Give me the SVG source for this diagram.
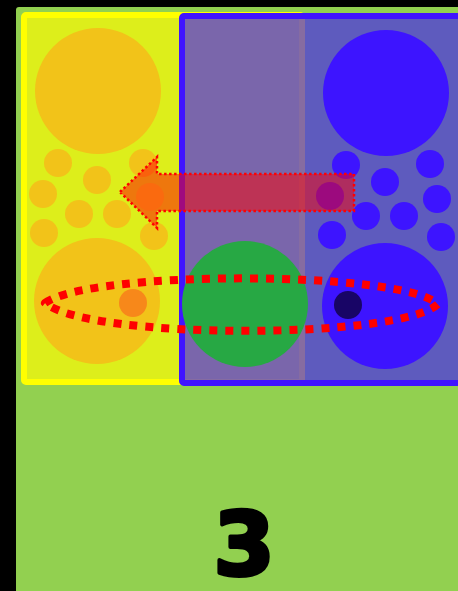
<svg xmlns="http://www.w3.org/2000/svg" width="458" height="591" viewBox="0 0 458 591">
<style>
.yc{fill:#F2C319}
.bc{fill:#3D14FF}
</style>
<rect x="0" y="0" width="458" height="591" fill="#000000"/>
<g id="background">
<rect x="16" y="7" width="460" height="600" rx="3" fill="#92D050"/>
</g>
<g id="yellow-panel">
<rect x="24" y="15" width="278" height="367" rx="2" fill="#DDEE1B" stroke="#FFFF00" stroke-width="6"/>
</g>
<g id="yellow-circles">
<circle class="yc" cx="98" cy="91" r="63"/>
<circle class="yc" cx="58" cy="163" r="14"/>
<circle class="yc" cx="97" cy="180" r="14"/>
<circle class="yc" cx="143" cy="163" r="14"/>
<circle class="yc" cx="43" cy="194" r="14"/>
<circle class="yc" cx="79" cy="214" r="14"/>
<circle class="yc" cx="117" cy="214" r="14"/>
<circle class="yc" cx="44" cy="233" r="14"/>
<circle class="yc" cx="154" cy="236" r="14"/>
<circle cx="150" cy="197" r="14" fill="#F5D41E"/>
<circle class="yc" cx="97" cy="301" r="63"/>
<circle cx="133" cy="303" r="14" fill="#F7881A"/>
</g>
<g id="blue-panel">
<rect x="182" y="16" width="300" height="367" rx="2" fill="#3F16FF" fill-opacity="0.63" stroke="#4014FF" stroke-width="6"/>
</g>
<g id="blue-circles">
<circle class="bc" cx="386" cy="93" r="63"/>
<circle class="bc" cx="346" cy="165" r="14"/>
<circle class="bc" cx="385" cy="182" r="14"/>
<circle class="bc" cx="430" cy="164" r="14"/>
<circle class="bc" cx="437" cy="199" r="14"/>
<circle class="bc" cx="366" cy="216" r="14"/>
<circle class="bc" cx="404" cy="216" r="14"/>
<circle class="bc" cx="332" cy="235" r="14"/>
<circle class="bc" cx="441" cy="237" r="14"/>
<circle cx="330" cy="196" r="14" fill="#3914FC"/>
<circle class="bc" cx="385" cy="306" r="63"/>
<circle cx="348" cy="305" r="14" fill="#180566"/>
</g>
<g id="green-circle">
<circle cx="245" cy="304" r="63" fill="#27A844"/>
</g>
<g id="connectors">
<path id="arrow" d="M120,192 L157,157 L157,174 L354,174 L354,211 L157,211 L157,228 Z" fill="#FF0000" fill-opacity="0.5" stroke="#FF0000" stroke-width="2.5" stroke-dasharray="2.5 2.5"/>
<path id="loop" d="M45,303 C90,270 400,270 438,304 C400,340 90,340 45,303 Z" fill="none" stroke="#FF0000" stroke-width="8" stroke-dasharray="8 8" stroke-linejoin="round"/>
</g>
<g id="label">
<text x="244" y="575" font-family="DejaVu Sans, sans-serif" font-weight="bold" font-size="88" text-anchor="middle" fill="#000000" stroke="#000000" stroke-width="4" stroke-linejoin="round">3</text>
</g>
</svg>
